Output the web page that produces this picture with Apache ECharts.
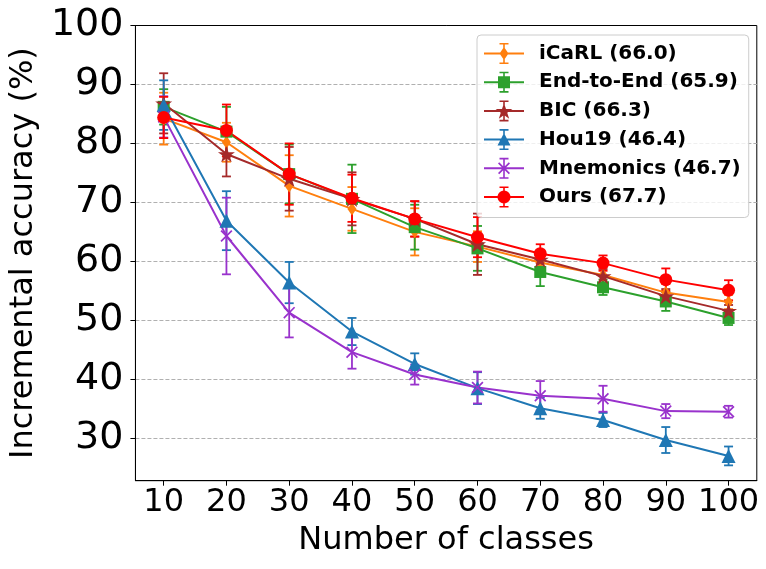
<!DOCTYPE html>
<html>
<head>
<meta charset="utf-8">
<script src="https://cdn.jsdelivr.net/npm/echarts@6/dist/echarts.min.js"></script>
<style>
  html,body{margin:0;padding:0;background:#fff;}
  #chart{width:766px;height:569px;}
</style>
</head>
<body>
<div id="chart"></div>
<script>
// number of classes on x axis
var classes = [10, 20, 30, 40, 50, 60, 70, 80, 90, 100];
var yTicks = [30, 40, 50, 60, 70, 80, 90, 100];
var gridLines = [30, 40, 50, 60, 70, 80, 90];

// mean accuracy and std for each method
var icarlMean = [84.2, 80.2, 72.8, 68.9, 65.0, 62.5, 59.8, 57.7, 54.7, 53.1];
var icarlStd  = [4.4, 3.3, 5.2, 3.7, 4.0, 2.6, 2.0, 1.5, 1.5, 1.2];
var e2eMean   = [86.2, 82.0, 74.8, 70.6, 65.8, 62.2, 58.2, 55.6, 53.2, 50.4];
var e2eStd    = [3.0, 4.2, 5.0, 5.8, 3.8, 3.8, 2.4, 1.3, 1.6, 1.2];
var bicMean   = [86.8, 78.2, 74.0, 70.6, 67.2, 62.9, 60.3, 57.5, 54.1, 51.6];
var bicStd    = [5.1, 3.8, 5.4, 4.5, 3.0, 5.2, 1.5, 1.2, 1.2, 1.0];
var houMean   = [86.5, 66.9, 56.4, 48.1, 42.6, 38.5, 35.1, 33.1, 29.7, 27.0];
var houStd    = [4.2, 5.0, 3.5, 2.3, 1.8, 2.7, 1.8, 1.2, 2.2, 1.6];
var mneMean   = [84.5, 64.3, 51.3, 44.6, 40.8, 38.6, 37.2, 36.7, 34.6, 34.5];
var mneStd    = [3.5, 6.5, 4.2, 2.8, 1.7, 2.7, 2.5, 2.2, 1.2, 1.0];
var oursMean  = [84.4, 82.2, 74.8, 70.7, 67.2, 64.1, 61.3, 59.7, 56.9, 55.1];
var oursStd   = [3.5, 4.4, 5.2, 4.0, 3.0, 3.4, 1.6, 1.3, 1.9, 1.7];

var names = ['iCaRL (66.0)', 'End-to-End (65.9)', 'BIC (66.3)', 'Hou19 (46.4)', 'Mnemonics (46.7)', 'Ours (67.7)'];
var colors = ['#ff7f0e', '#2ca02c', '#a52a2a', '#1f77b4', '#9932cc', '#ff0000'];
var means = [icarlMean, e2eMean, bicMean, houMean, mneMean, oursMean];
var stds = [icarlStd, e2eStd, bicStd, houStd, mneStd, oursStd];

var FONT = 'DejaVu Sans';

// --- symbol paths ---
function rect(x0, y0, x1, y1) {
  return 'M' + x0 + ' ' + y0 + 'L' + x1 + ' ' + y0 + 'L' + x1 + ' ' + y1 + 'L' + x0 + ' ' + y1 + 'Z';
}
function poly(pts) {
  return 'M' + pts.map(function (p) { return p[0].toFixed(2) + ' ' + p[1].toFixed(2); }).join('L') + 'Z';
}
function starPts(cx, cy, ro, ri) {
  var pts = [];
  for (var k = 0; k < 10; k++) {
    var a = (-90 + k * 36) * Math.PI / 180;
    var r = k % 2 ? ri : ro;
    pts.push([cx + r * Math.cos(a), cy + r * Math.sin(a)]);
  }
  return pts;
}
function circlePts(cx, cy, r) {
  var pts = [];
  for (var k = 0; k < 28; k++) {
    var a = k / 28 * Math.PI * 2;
    pts.push([cx + r * Math.cos(a), cy + r * Math.sin(a)]);
  }
  return pts;
}
function xPath(x0, y0, s, d) {
  var x1 = x0 + s, y1 = y0 + s;
  return poly([[x0, y0 + d], [x0 + d, y0], [x1, y1 - d], [x1 - d, y1]]) +
         poly([[x1 - d, y0], [x1, y0 + d], [x0 + d, y1], [x0, y1 - d]]);
}

var starSymbol = 'path://' + poly(starPts(10, 10, 10, 3.82));
var xSymbol = 'path://' + xPath(0, 0, 10, 1);

// legend handle: line + error bar with caps + marker
var handleBase = rect(0, 9.5, 40, 11.5) + rect(19.2, 0, 20.8, 21) + rect(15.5, 0, 24.5, 1.6) + rect(15.5, 19.4, 24.5, 21);
var legendMarks = [
  poly([[20, 4], [24.5, 10.5], [20, 17], [15.5, 10.5]]),
  rect(14, 4.5, 26, 16.5),
  poly(starPts(20, 11.3, 8.8, 3.4)),
  poly([[20, 4], [26.5, 16.5], [13.5, 16.5]]),
  xPath(14, 4.5, 12, 1.2),
  poly(circlePts(20, 10.5, 6.5))
];

var symbols = ['diamond', 'rect', starSymbol, 'triangle', xSymbol, 'circle'];
var symbolSizes = [[9, 13], 12, 17, 14, 12, 13];

function errRender(params, api) {
  var x = api.value(0), y = api.value(1), e = api.value(2);
  var hi = api.coord([x, y + e]);
  var lo = api.coord([x, y - e]);
  var w = 4.5;
  var st = { stroke: api.visual('color'), lineWidth: 1.8 };
  return {
    type: 'group',
    children: [
      { type: 'line', shape: { x1: hi[0], y1: hi[1], x2: lo[0], y2: lo[1] }, style: st },
      { type: 'line', shape: { x1: hi[0] - w, y1: hi[1], x2: hi[0] + w, y2: hi[1] }, style: st },
      { type: 'line', shape: { x1: lo[0] - w, y1: lo[1], x2: lo[0] + w, y2: lo[1] }, style: st }
    ]
  };
}

var series = [];
var legendData = [];
names.forEach(function (nm, i) {
  series.push({
    name: nm + ' err',
    type: 'custom',
    renderItem: errRender,
    itemStyle: { color: colors[i] },
    data: classes.map(function (c, j) { return [c, means[i][j], stds[i][j]]; }),
    silent: true
  });
  series.push({
    name: nm,
    type: 'line',
    data: classes.map(function (c, j) { return [c, means[i][j]]; }),
    symbol: symbols[i],
    symbolSize: symbolSizes[i],
    symbolKeepAspect: true,
    showSymbol: true,
    lineStyle: { color: colors[i], width: 2 },
    itemStyle: { color: colors[i], borderWidth: 0 }
  });
  legendData.push({ name: nm, icon: 'path://' + handleBase + legendMarks[i] });
});

var chart = echarts.init(document.getElementById('chart'));
chart.setOption({
  animation: false,
  backgroundColor: '#fff',
  grid: {
    left: 133.5, right: 9.2, top: 25.5, bottom: 88.3,
    show: true, borderColor: '#000', borderWidth: 1, backgroundColor: 'transparent'
  },
  legend: {
    orient: 'vertical',
    left: 477, top: 35,
    padding: [8, 8, 10, 7],
    itemGap: 7.7,
    itemWidth: 40, itemHeight: 21,
    backgroundColor: 'rgba(255,255,255,0.8)',
    borderColor: '#cccccc', borderWidth: 1, borderRadius: 4,
    itemStyle: { borderWidth: 0 },
    textStyle: { fontFamily: FONT, fontSize: 20, fontWeight: 'bold', color: '#000', padding: [0, 0, 0, 10], lineHeight: 21 },
    data: legendData,
    selectedMode: false
  },
  xAxis: {
    type: 'value',
    min: 5.5, max: 104.5,
    name: 'Number of classes',
    nameLocation: 'middle',
    nameGap: 44,
    nameTextStyle: { fontFamily: FONT, fontSize: 32, color: '#000' },
    axisLine: { show: true, lineStyle: { color: '#000', width: 1 } },
    axisTick: { show: true, customValues: classes, length: 5, lineStyle: { color: '#000', width: 1 } },
    axisLabel: { customValues: classes, fontFamily: FONT, fontSize: 32, color: '#000', margin: 6 },
    splitLine: { show: false }
  },
  yAxis: [{
    type: 'value',
    min: 22.8, max: 100,
    name: 'Incremental accuracy (%)',
    nameLocation: 'middle',
    nameGap: 88,
    nameTextStyle: { fontFamily: FONT, fontSize: 32, color: '#000' },
    axisLine: { show: true, lineStyle: { color: '#000', width: 1 } },
    axisTick: { show: true, customValues: yTicks, length: 5, lineStyle: { color: '#000', width: 1 } },
    axisLabel: { customValues: yTicks, fontFamily: FONT, fontSize: 38, color: '#000', margin: 12 },
    splitLine: { show: false }
  }, {
    // helper axis only for the dashed grid (keeps the top spine solid)
    type: 'value',
    position: 'right',
    min: 22.8, max: 100,
    axisLine: { show: false },
    axisTick: { show: false, customValues: gridLines },
    axisLabel: { show: false, customValues: gridLines },
    splitLine: { show: true, lineStyle: { color: '#b0b0b0', width: 1, type: [4, 2] } }
  }],
  series: series
});
</script>
</body>
</html>
